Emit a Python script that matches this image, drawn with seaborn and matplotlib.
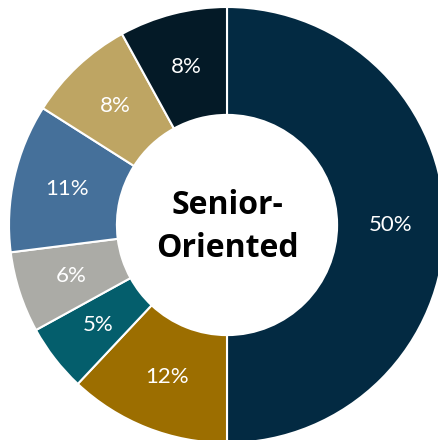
import matplotlib
matplotlib.use("Agg")
import matplotlib.pyplot as plt
import numpy as np
import seaborn as sns

categories = ["A", "B", "C", "D", "E", "F", "G"]
values = [50, 12, 5, 6, 11, 8, 8]
labels = ["50%", "12%", "5%", "6%", "11%", "8%", "8%"]
colors = ["#032A42", "#9C6E00", "#045E6C", "#ABABA6", "#45709A", "#BEA563", "#041A27"]
center_text = "Senior-\nOriented"

sns.set_theme(style="white")
plt.rcParams["font.family"] = ["Lato", "DejaVu Sans"]

W, H = 438, 440
fig = plt.figure(figsize=(W / 100, H / 100), dpi=100)
ax = fig.add_axes([0, 0, 1, 1])

wedges, _ = ax.pie(values, colors=colors, startangle=90, counterclock=False,
                   radius=1.0,
                   wedgeprops=dict(width=0.495, edgecolor="white", linewidth=1.5))

for w, lab in zip(wedges, labels):
    ang = np.deg2rad((w.theta1 + w.theta2) / 2)
    r = 0.75
    ax.text(r * np.cos(ang), r * np.sin(ang), lab, ha="center", va="center",
            color="white", fontsize=16, fontweight="normal",
            fontfamily=["Lato", "DejaVu Sans"])

ax.text(0, -0.01, center_text, ha="center", va="center", fontsize=23,
        fontweight="bold", color="black", linespacing=1.4,
        fontfamily=["Open Sans", "DejaVu Sans"])

R = 218.0
cx, cy = 227.0, 225.0
ax.set_aspect("auto")
ax.set_xlim(-cx / R, (W - cx) / R)
ax.set_ylim(-(H - cy) / R, cy / R)
ax.axis("off")

fig.savefig("out.png", dpi=100, facecolor="white")
